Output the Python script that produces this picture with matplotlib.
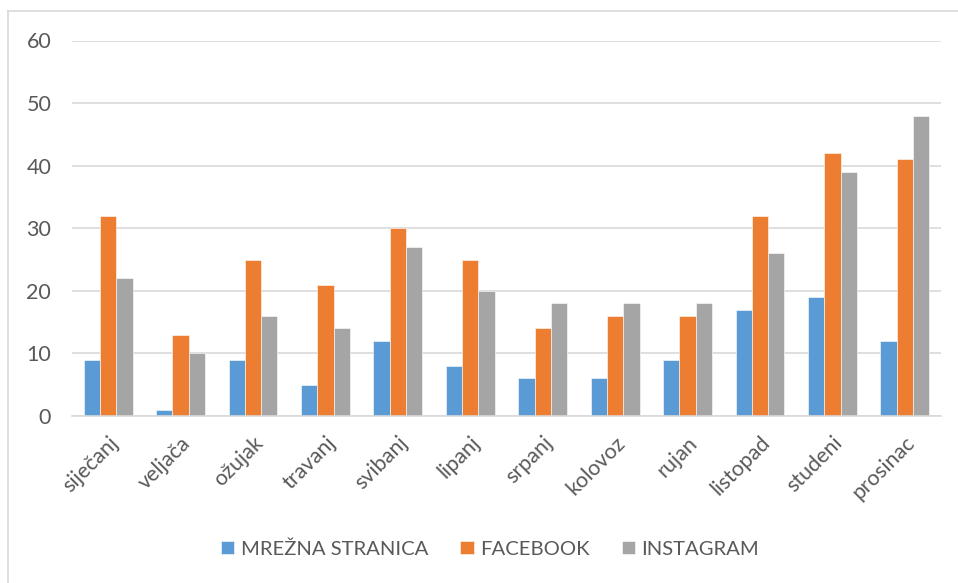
import matplotlib
matplotlib.use("Agg")
import matplotlib.pyplot as plt
import numpy as np
from matplotlib.lines import Line2D

months = ["siječanj", "veljača", "ožujak", "travanj", "svibanj", "lipanj",
          "srpanj", "kolovoz", "rujan", "listopad", "studeni", "prosinac"]
mrezna = [9, 1, 9, 5, 12, 8, 6, 6, 9, 17, 19, 12]
facebook = [32, 13, 25, 21, 30, 25, 14, 16, 16, 32, 42, 41]
instagram = [22, 10, 16, 14, 27, 20, 18, 18, 18, 26, 39, 48]
series_names = ["MREŽNA STRANICA", "FACEBOOK", "INSTAGRAM"]
colors = ["#5B9BD5", "#ED7D31", "#A5A5A5"]
yticks = [0, 10, 20, 30, 40, 50, 60]

plt.rcParams['font.family'] = ['Lato', 'DejaVu Sans']

W, H = 958, 583
fig = plt.figure(figsize=(W / 100, H / 100), dpi=100)
ax = fig.add_axes([72 / W, 167 / H, (941 - 72) / W, (416 - 40.5) / H])

x = np.arange(len(months))
bw = 0.225
for i, (vals, c, name) in enumerate(zip([mrezna, facebook, instagram], colors, series_names)):
    ax.bar(x + (i - 1) * bw, vals, bw, color=c, label=name,
           edgecolor="white", linewidth=0.4, zorder=3)

ax.set_xlim(-0.5, len(months) - 0.5)
ax.set_ylim(0, 60)
ax.set_yticks(yticks)
ax.set_yticklabels([str(v) for v in yticks], fontsize=15.5, color="#595959")
ax.set_xticks(x)
ax.set_xticklabels(months, rotation=45, ha="right", rotation_mode="anchor",
                   fontsize=15.5, color="#595959")
ax.tick_params(axis="both", length=0)
ax.tick_params(axis="y", pad=15)
ax.tick_params(axis="x", pad=12)
ax.grid(axis="y", color="#D9D9D9", linewidth=1.2, zorder=0)
for s in ["top", "right", "left"]:
    ax.spines[s].set_visible(False)
ax.spines["bottom"].set_color("#D9D9D9")
ax.spines["bottom"].set_linewidth(1.2)
ax.spines["bottom"].set_zorder(4)

leg = fig.legend(loc="center", bbox_to_anchor=(490 / W, 1 - 549 / H), ncol=3,
                 frameon=False, fontsize=14.6, handlelength=0.65, handleheight=0.65,
                 handletextpad=0.3, columnspacing=1.6)
for t in leg.get_texts():
    t.set_color("#595959")

# chart frame
fig.add_artist(Line2D([8 / W, 8 / W], [0, 1 - 11 / H], transform=fig.transFigure,
                      color="#D9D9D9", linewidth=1.2))
fig.add_artist(Line2D([8 / W, 1], [1 - 11 / H, 1 - 11 / H], transform=fig.transFigure,
                      color="#D9D9D9", linewidth=1.2))

fig.savefig("out.png", dpi=100)
